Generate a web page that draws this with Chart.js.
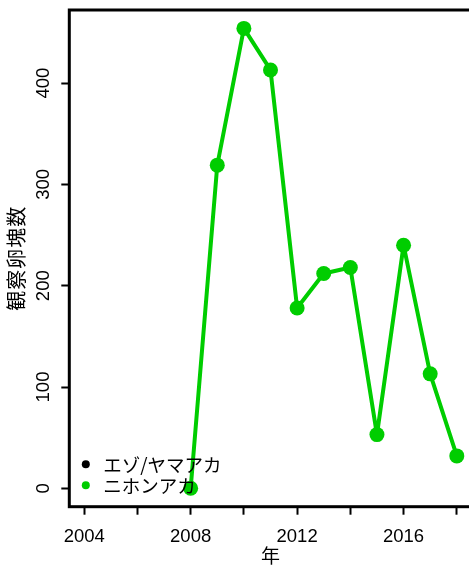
<!DOCTYPE html>
<html>
<head>
<meta charset="utf-8">
<script src="https://cdn.jsdelivr.net/npm/chart.js@4"></script>
<style>
  html, body { margin: 0; padding: 0; overflow: hidden; background: #fff; }
</style>
</head>
<body>
<canvas id="grafico" width="480" height="569"></canvas>
<script>
// datos del gráfico
const anios = [2004, 2005, 2006, 2007, 2008, 2009, 2010, 2011, 2012, 2013, 2014, 2015, 2016, 2017, 2018];
const ezoYamaaka = [null, null, null, null, null, null, null, null, null, null, null, null, null, null, null];
const nihonAkagaeru = [null, null, null, null, 0, 319, 454, 413, 178, 212, 218, 53, 240, 113, 32];
const nombresSeries = ['エゾ/ヤマアカ', 'ニホンアカ'];
const coloresSeries = ['#000000', '#00CD00'];
const marcasX = [2004, 2006, 2008, 2010, 2012, 2014, 2016, 2018];
const etiquetasX = [2004, 2008, 2012, 2016];
const etiquetasY = [0, 100, 200, 300, 400];

const fuenteNum = '"Liberation Sans", Arial, sans-serif';
const fuenteJa = '"Noto Sans CJK JP", sans-serif';

// rango tipo R (4% de margen)
const valores = nihonAkagaeru.filter(v => v !== null);
const yMax = Math.max(...valores), yMin = Math.min(...valores);
const padY = (yMax - yMin) * 0.04;
const padX = (anios[anios.length - 1] - anios[0]) * 0.04;

const toPuntos = serie => anios.map((a, i) => ({ x: a, y: serie[i] }));

// caja, etiquetas del eje y, títulos y leyenda
const extras = {
    id: 'extras',
    afterDraw(chart) {
        const ctx = chart.ctx;
        const area = chart.chartArea;
        const ys = chart.scales.y;
        ctx.save();
        ctx.strokeStyle = '#000';
        ctx.lineWidth = 3;
        ctx.strokeRect(area.left, area.top, area.right - area.left, area.bottom - area.top);

        // etiquetas del eje y (verticales)
        ctx.fillStyle = '#000';
        ctx.font = '18.5px ' + fuenteNum;
        ctx.textAlign = 'center';
        ctx.textBaseline = 'middle';
        etiquetasY.forEach(v => {
            ctx.save();
            ctx.translate(43, ys.getPixelForValue(v));
            ctx.rotate(-Math.PI / 2);
            ctx.fillText(String(v), 0, 1);
            ctx.restore();
        });

        // título eje y
        ctx.save();
        ctx.font = '20px ' + fuenteJa;
        ctx.letterSpacing = '1px';
        ctx.translate(16, (area.top + area.bottom) / 2);
        ctx.rotate(-Math.PI / 2);
        ctx.fillText('観察卵塊数', 0, 0);
        ctx.restore();

        // título eje x
        ctx.font = '19px ' + fuenteJa;
        ctx.fillText('年', (area.left + area.right) / 2, 556);

        // leyenda
        ctx.font = '18.5px ' + fuenteJa;
        ctx.textAlign = 'left';
        chart.data.datasets.forEach((ds, i) => {
            const y = area.bottom - 42.5 + i * 21;
            ctx.fillStyle = ds.borderColor;
            ctx.beginPath();
            ctx.arc(area.left + 16.5, y, 4, 0, Math.PI * 2);
            ctx.fill();
            ctx.fillStyle = '#000';
            ctx.fillText(ds.label, area.left + 34, y + 1);
        });
        ctx.restore();
    }
};

const grafico = new Chart(document.getElementById('grafico'), {
    type: 'line',
    data: {
        datasets: [
            {
                label: nombresSeries[0],
                data: toPuntos(ezoYamaaka),
                borderColor: coloresSeries[0],
                backgroundColor: coloresSeries[0],
                borderWidth: 4,
                pointRadius: 7.5,
                spanGaps: false
            },
            {
                label: nombresSeries[1],
                data: toPuntos(nihonAkagaeru),
                borderColor: coloresSeries[1],
                backgroundColor: coloresSeries[1],
                borderWidth: 4,
                borderJoinStyle: 'round',
                borderCapStyle: 'round',
                pointRadius: 7.5,
                pointBorderWidth: 0,
                pointHoverRadius: 7.5,
                tension: 0,
                spanGaps: false
            }
        ]
    },
    options: {
        responsive: false,
        animation: false,
        layout: {
            autoPadding: false,
            padding: { left: 0, top: 10, right: 8.3, bottom: 0 }
        },
        plugins: {
            legend: { display: false },
            tooltip: { enabled: false }
        },
        scales: {
            x: {
                type: 'linear',
                bounds: 'data',
                min: anios[0] - padX,
                max: anios[anios.length - 1] + padX,
                afterBuildTicks: s => { s.ticks = marcasX.map(v => ({ value: v })); },
                afterFit: s => {
                    s.height = 62.3;
                    s.paddingLeft = 0;
                    s.paddingRight = 0;
                },
                border: { display: false },
                grid: {
                    drawOnChartArea: false,
                    drawTicks: true,
                    tickLength: 8,
                    tickWidth: 2,
                    tickColor: '#000'
                },
                ticks: {
                    autoSkip: false,
                    maxRotation: 0,
                    padding: 11,
                    color: '#000',
                    font: { family: fuenteNum, size: 18.5 },
                    callback: v => etiquetasX.includes(v) ? String(v) : ''
                }
            },
            y: {
                type: 'linear',
                bounds: 'data',
                min: yMin - padY,
                max: yMax + padY,
                afterBuildTicks: s => { s.ticks = etiquetasY.map(v => ({ value: v })); },
                afterFit: s => {
                    s.width = 69.3;
                    s.paddingTop = 0;
                    s.paddingBottom = 0;
                },
                border: { display: false },
                grid: {
                    drawOnChartArea: false,
                    drawTicks: true,
                    tickLength: 8,
                    tickWidth: 2,
                    tickColor: '#000'
                },
                ticks: {
                    display: false
                }
            }
        }
    },
    plugins: [extras]
});
</script>
</body>
</html>
